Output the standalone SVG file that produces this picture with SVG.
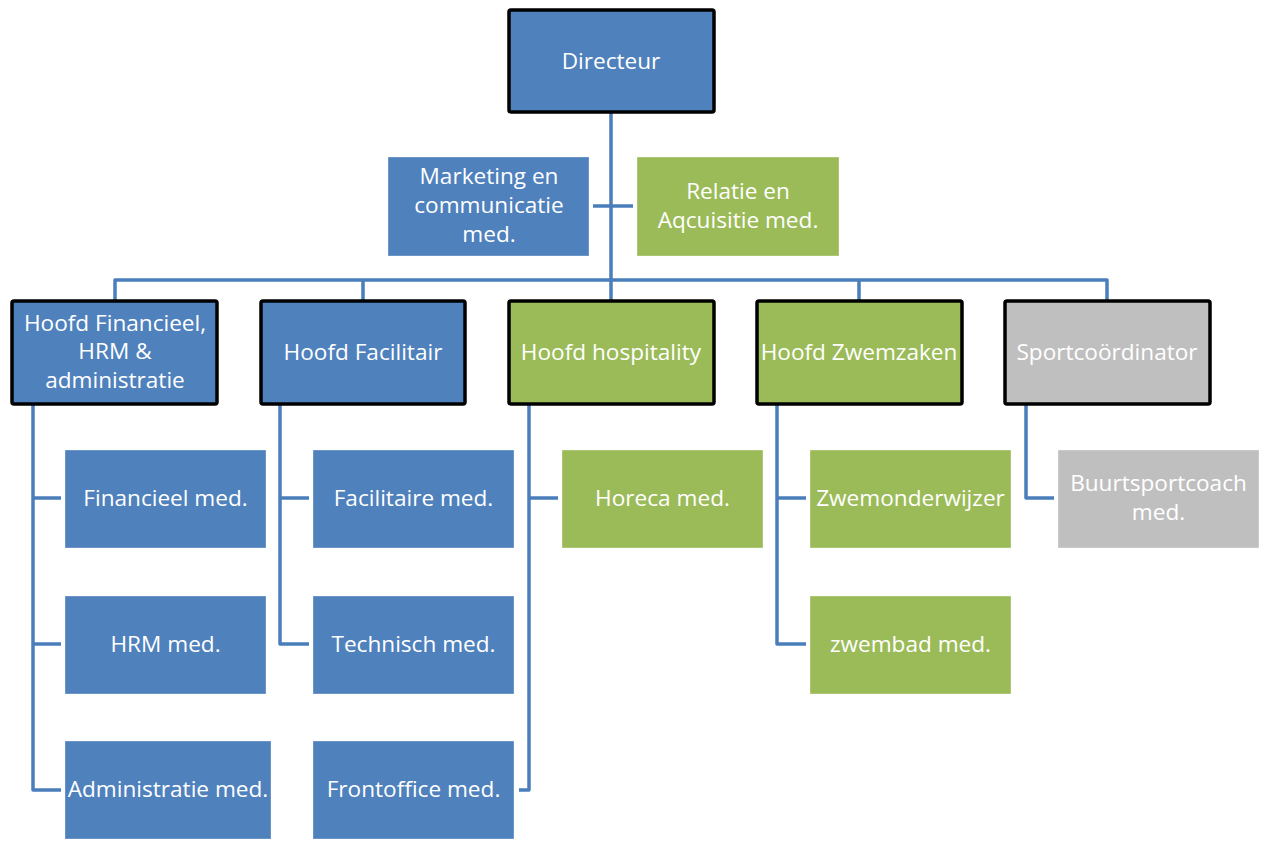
<svg xmlns="http://www.w3.org/2000/svg" width="1264" height="841" viewBox="0 0 1264 841">
<style>
.t{font-family:"Open Sans","Liberation Sans",sans-serif;font-size:22.6px;fill:#ffffff;text-anchor:middle}
.head{stroke:#000000;stroke-width:3.5}
.blue{fill:#4F81BD}
.green{fill:#9BBB59}
.gray{fill:#BFBFBF}
.sub{stroke:#ffffff;stroke-opacity:0.35;stroke-width:1}
.c{fill:none;stroke:#4A7EBB;stroke-width:3.5;stroke-linejoin:round}
</style>
<rect width="1264" height="841" fill="#ffffff"/>
<g id="connectors">
<path class="c" d="M611,113 V300"/>
<path class="c" d="M593,206 H633"/>
<path class="c" d="M115,300 V280 H1107 V300"/>
<path class="c" d="M363,280 V300"/>
<path class="c" d="M859,280 V300"/>
<path class="c" d="M33,405 V790 H61 M33,498 H61 M33,644 H61"/>
<path class="c" d="M280,405 V644 H309 M280,498 H309"/>
<path class="c" d="M529,405 V790 H519 M529,498 H558"/>
<path class="c" d="M777,405 V644 H806 M777,498 H806"/>
<path class="c" d="M1026,405 V498 H1054"/>
</g>
<g id="directeur">
<rect class="blue head" x="509" y="10" width="205" height="102" rx="2"/>
<text class="t" x="611" y="69">Directeur</text>
</g>
<g id="marketing">
<rect class="blue sub" x="388" y="157" width="201" height="99"/>
<text class="t" x="489" y="184">Marketing en</text>
<text class="t" x="489" y="213">communicatie</text>
<text class="t" x="489" y="242">med.</text>
</g>
<g id="relatie">
<rect class="green sub" x="637" y="157" width="202" height="99"/>
<text class="t" x="738" y="199">Relatie en</text>
<text class="t" x="738" y="228">Aqcuisitie med.</text>
</g>
<g id="hoofd-financieel">
<rect class="blue head" x="12" y="301" width="205" height="103" rx="2"/>
<text class="t" x="115" y="331">Hoofd Financieel,</text>
<text class="t" x="115" y="359">HRM &amp;</text>
<text class="t" x="115" y="388">administratie</text>
</g>
<g id="hoofd-facilitair">
<rect class="blue head" x="261" y="301" width="204" height="103" rx="2"/>
<text class="t" x="363" y="360">Hoofd Facilitair</text>
</g>
<g id="hoofd-hospitality">
<rect class="green head" x="509" y="301" width="205" height="103" rx="2"/>
<text class="t" x="611" y="360">Hoofd hospitality</text>
</g>
<g id="hoofd-zwemzaken">
<rect class="green head" x="757" y="301" width="205" height="103" rx="2"/>
<text class="t" x="859" y="360">Hoofd Zwemzaken</text>
</g>
<g id="sportcoordinator">
<rect class="gray head" x="1005" y="301" width="205" height="103" rx="2"/>
<text class="t" x="1107" y="360">Sportcoördinator</text>
</g>
<g id="financieel-med">
<rect class="blue sub" x="65" y="450" width="201" height="98"/>
<text class="t" x="165.5" y="506">Financieel med.</text>
</g>
<g id="hrm-med">
<rect class="blue sub" x="65" y="596" width="201" height="98"/>
<text class="t" x="165.5" y="652">HRM med.</text>
</g>
<g id="administratie-med">
<rect class="blue sub" x="65" y="741" width="206" height="98"/>
<text class="t" x="168" y="797">Administratie med.</text>
</g>
<g id="facilitaire-med">
<rect class="blue sub" x="313" y="450" width="201" height="98"/>
<text class="t" x="413.5" y="506">Facilitaire med.</text>
</g>
<g id="technisch-med">
<rect class="blue sub" x="313" y="596" width="201" height="98"/>
<text class="t" x="413.5" y="652">Technisch med.</text>
</g>
<g id="frontoffice-med">
<rect class="blue sub" x="313" y="741" width="201" height="98"/>
<text class="t" x="413.5" y="797">Frontoffice med.</text>
</g>
<g id="horeca-med">
<rect class="green sub" x="562" y="450" width="201" height="98"/>
<text class="t" x="662.5" y="506">Horeca med.</text>
</g>
<g id="zwemonderwijzer">
<rect class="green sub" x="810" y="450" width="201" height="98"/>
<text class="t" x="910.5" y="506">Zwemonderwijzer</text>
</g>
<g id="zwembad-med">
<rect class="green sub" x="810" y="596" width="201" height="98"/>
<text class="t" x="910.5" y="652">zwembad med.</text>
</g>
<g id="buurtsportcoach-med">
<rect class="gray sub" x="1058" y="450" width="201" height="98"/>
<text class="t" x="1158.5" y="491">Buurtsportcoach</text>
<text class="t" x="1158.5" y="520">med.</text>
</g>
</svg>
